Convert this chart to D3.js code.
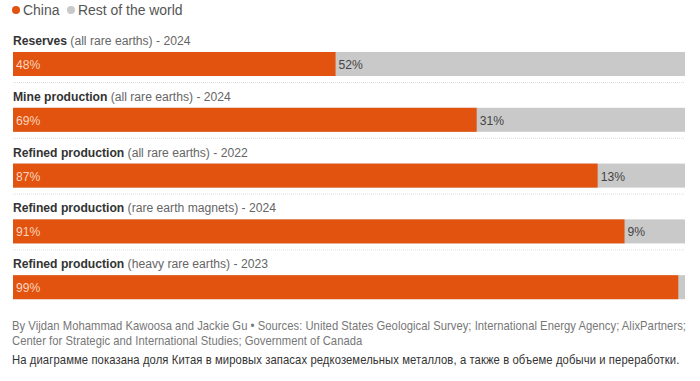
<!DOCTYPE html>
<html>
<head>
<meta charset="utf-8">
<script src="https://cdn.jsdelivr.net/npm/d3@7"></script>
<style>
  body { margin: 0; background: #fff; }
  svg { display: block; font-family: "Liberation Sans", Arial, sans-serif; }
</style>
</head>
<body>
<svg id="chart" width="700" height="381"></svg>
<script>
// data
var metrics = ['Reserves', 'Mine production', 'Refined production', 'Refined production', 'Refined production'];
var scopes = ['(all rare earths) - 2024', '(all rare earths) - 2024', '(all rare earths) - 2022', '(rare earth magnets) - 2024', '(heavy rare earths) - 2023'];
var china = [48, 69, 87, 91, 99];
var rest = [52, 31, 13, 9, 1];
var seriesNames = ['China', 'Rest of the world'];

var orange = '#e2530f';
var grey = '#c9c9c9';

// the original font is condensed, squeeze every text horizontally
var k = 0.9;

var rows = china.map(function(d, i) {
  return { metric: metrics[i], scope: scopes[i], china: d, rest: rest[i] };
});

var svg = d3.select('#chart');

var x = d3.scaleLinear().domain([0, 100]).range([13, 685]);
var y = d3.scaleLinear().domain([0, rows.length]).range([52, 52 + 55.8 * rows.length]);
var barH = 24;

function put(sel, tx, ty) {
  return sel.attr('transform', function(d) {
    var a = typeof tx == 'function' ? tx(d) : tx;
    var b = typeof ty == 'function' ? ty(d) : ty;
    return 'translate(' + a + ',' + b + ') scale(' + k + ',1)';
  });
}

//legend
var legend = svg.append('g').attr('transform', 'translate(12,15)');
var lx = [0, 55];
seriesNames.forEach(function(n, i) {
  var g = legend.append('g').attr('transform', 'translate(' + lx[i] + ',0)');
  g.append('circle').attr('cx', 4).attr('cy', -5).attr('r', 4).attr('fill', i == 0 ? orange : grey);
  put(g.append('text'), 11, 0).style('font-size', '15.5px').attr('fill', '#555').text(n);
});

var row = svg.selectAll('.row').data(rows).enter()
  .append('g').attr('class', 'row')
  .attr('transform', function(d, i) { return 'translate(0,' + y(i) + ')'; });

// labels
var lab = put(row.append('text'), 13, -7).style('font-size', '13.5px');
lab.append('tspan').attr('font-weight', 'bold').attr('fill', '#333').text(function(d) { return d.metric; });
lab.append('tspan').attr('fill', '#666').text(function(d) { return ' ' + d.scope; });

// bars
row.append('rect')
  .attr('x', x(0)).attr('y', 0)
  .attr('width', x(100) - x(0)).attr('height', barH)
  .attr('fill', grey);

row.append('rect')
  .attr('x', x(0)).attr('y', 0)
  .attr('width', function(d) { return x(d.china) - x(0); }).attr('height', barH)
  .attr('fill', orange);

put(row.append('text'), x(0) + 3, barH / 2 + 5)
  .style('font-size', '13.5px').attr('fill', '#fbd3bd')
  .text(function(d) { return d.china + '%'; });

put(row.filter(function(d) { return d.rest > 2; }).append('text'),
    function(d) { return x(d.china) + 3; }, barH / 2 + 5)
  .style('font-size', '13.5px').attr('fill', '#444')
  .text(function(d) { return d.rest + '%'; });

row.filter(function(d, i) { return i < rows.length - 1; }).append('line')
  .attr('x1', x(0)).attr('x2', x(100))
  .attr('y1', barH + 6.5).attr('y2', barH + 6.5)
  .attr('stroke', '#ddd').attr('stroke-dasharray', '1,1');

// footer
var foot = svg.append('g').style('font-size', '12.5px');
put(foot.append('text'), 12, 330).attr('fill', '#777').attr('letter-spacing', '0.04')
  .text('By Vijdan Mohammad Kawoosa and Jackie Gu \u2022 Sources: United States Geological Survey; International Energy Agency; AlixPartners;');
put(foot.append('text'), 12, 345).attr('fill', '#777').attr('letter-spacing', '0.04')
  .text('Center for Strategic and International Studies; Government of Canada');
put(foot.append('text'), 12, 364).attr('fill', '#333').attr('letter-spacing', '0.12')
  .text('На диаграмме показана доля Китая в мировых запасах редкоземельных металлов, а также в объеме добычи и переработки.');
</script>
</body>
</html>
